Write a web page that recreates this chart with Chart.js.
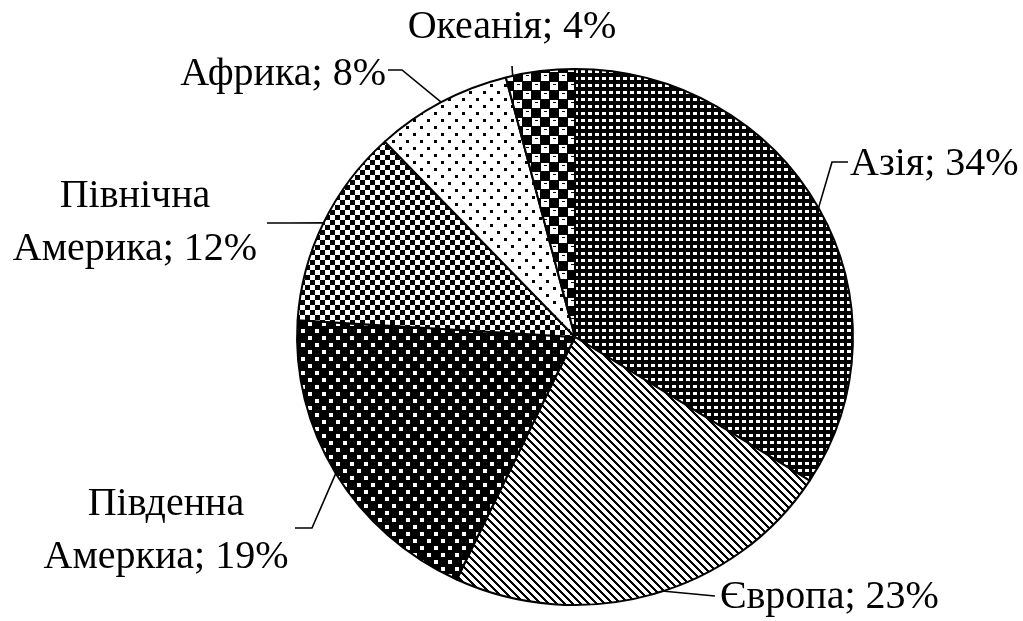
<!DOCTYPE html>
<html>
<head>
<meta charset="utf-8">
<script src="https://cdn.jsdelivr.net/npm/chart.js@4.4.1/dist/chart.umd.min.js"></script>
<style>
  html, body { margin: 0; padding: 0; background: #fff; }
  #wrap { width: 1023px; height: 621px; }
</style>
</head>
<body>
<div id="wrap"><canvas id="pieChart" width="1023" height="621"></canvas></div>
<script>
// Data
const regions = ['Азія', 'Європа', 'Південна Амеркиа', 'Північна Америка', 'Африка', 'Океанія'];
const shares  = [34, 23, 19, 12, 8, 4];

const canvas = document.getElementById('pieChart');
const mainCtx = canvas.getContext('2d');

// Monochrome fill patterns (tile w, h, background, foreground, rects)
function makePattern(w, h, bg, fg, rects, extra) {
    const tile = document.createElement('canvas');
    tile.width = w; tile.height = h;
    const t = tile.getContext('2d');
    t.fillStyle = bg; t.fillRect(0, 0, w, h);
    t.fillStyle = fg;
    rects.forEach(r => t.fillRect(r[0], r[1], r[2], r[3]));
    if (extra) { t.fillStyle = bg; extra.forEach(r => t.fillRect(r[0], r[1], r[2], r[3])); }
    return mainCtx.createPattern(tile, 'repeat');
}

// diagonal stripes falling to the right, drawn pixel by pixel
function diagPattern(n, w) {
    const rects = [];
    for (let y = 0; y < n; y++)
        for (let x = 0; x < n; x++)
            if ((x - y + n) % n < w) rects.push([x, y, 1, 1]);
    return makePattern(n, n, '#fff', '#000', rects);
}

const fills = [
    makePattern(7, 7, '#000', '#fff', [[0, 0, 4, 3]]),                                  // Азія
    diagPattern(8, 3),                                                                  // Європа
    makePattern(14, 14, '#000', '#fff', [[0, 0, 4, 4], [7, 7, 4, 4]]),                  // Південна
    makePattern(10, 10, '#fff', '#000', [[0, 0, 5, 5], [5, 5, 5, 5]]),                  // Північна
    makePattern(14, 14, '#fff', '#000', [[0, 0, 3, 3], [7, 7, 3, 3]]),                  // Африка
    makePattern(18, 18, '#000', '#fff', [[1, 1, 8, 8], [10, 10, 8, 8]], [[4, 3, 3, 1], [13, 12, 3, 1]]) // Океанія
];

// Label placement (text side of each leader)
const labelLayout = [
    { x: 850, y: 175, align: 'left',   leader: [[848, 162], [832, 162]], at: 0.5 },
    { x: 720, y: 608, align: 'left',   leader: [[715, 596], [662, 591]], at: 0.5 },
    { x: 166, y: 515, align: 'center', leader: [[295, 528], [312, 528]], at: 0.5 },
    { x: 135, y: 207, align: 'center', leader: [[267, 223], [290, 223]], at: 0.5 },
    { x: 386, y: 85,  align: 'right',  leader: [[388, 70], [402, 70]],   at: 0.5 },
    { x: 512, y: 38,  align: 'center', leader: [[512, 66]],              at: 0.1 },
];

const stretchX = 1.037;   // reference pie is slightly wider than tall
const lineGap = 53;

function labelLines(i) {
    const name = regions[i];
    const sp = name.indexOf(' ');
    const text = `${name}; ${shares[i]}%`;
    if (sp < 0) return [text];
    return [name.slice(0, sp), text.slice(sp + 1)];
}

const stretchPlugin = {
    id: 'stretch',
    beforeDatasetsDraw(chart) {
        const a = chart.getDatasetMeta(0).data[0];
        const ctx = chart.ctx;
        // undo the stretch for the pattern tiles so they stay pixel-crisp
        const inv = new DOMMatrix().translate(a.x, a.y).scale(1 / stretchX, 1).translate(-a.x, -a.y);
        fills.forEach(p => p.setTransform(inv));
        ctx.save();
        ctx.translate(a.x, a.y);
        ctx.scale(stretchX, 1);
        ctx.translate(-a.x, -a.y);
    },
    afterDatasetsDraw(chart) { chart.ctx.restore(); }
};

const labelPlugin = {
    id: 'pieLabels',
    afterDraw(chart) {
        const ctx = chart.ctx;
        const arcs = chart.getDatasetMeta(0).data;
        ctx.save();
        ctx.strokeStyle = '#000';
        ctx.lineWidth = 1.6;
        arcs.forEach((arc, i) => {
            const L = labelLayout[i];
            const ang = arc.startAngle + L.at * (arc.endAngle - arc.startAngle);
            const px = arc.x + stretchX * arc.outerRadius * Math.cos(ang);
            const py = arc.y + arc.outerRadius * Math.sin(ang);
            ctx.beginPath();
            ctx.moveTo(L.leader[0][0], L.leader[0][1]);
            for (let k = 1; k < L.leader.length; k++) ctx.lineTo(L.leader[k][0], L.leader[k][1]);
            ctx.lineTo(px, py);
            ctx.stroke();
        });
        ctx.fillStyle = '#000';
        ctx.font = '40px "Liberation Serif", "Times New Roman", serif';
        ctx.textBaseline = 'alphabetic';
        arcs.forEach((arc, i) => {
            const L = labelLayout[i];
            ctx.textAlign = L.align;
            labelLines(i).forEach((s, k) => ctx.fillText(s, L.x, L.y + k * lineGap));
        });
        ctx.restore();
    }
};

new Chart(mainCtx, {
    type: 'pie',
    data: {
        labels: regions,
        datasets: [{
            data: shares,
            backgroundColor: fills,
            borderColor: '#000',
            borderWidth: 2,
            hoverOffset: 0,
        }]
    },
    options: {
        responsive: false,
        animation: false,
        events: [],
        radius: 268,
        layout: { padding: { left: 275, right: 148, top: 57, bottom: 4 } },
        plugins: {
            legend: { display: false },
            tooltip: { enabled: false }
        }
    },
    plugins: [stretchPlugin, labelPlugin]
});
</script>
</body>
</html>
